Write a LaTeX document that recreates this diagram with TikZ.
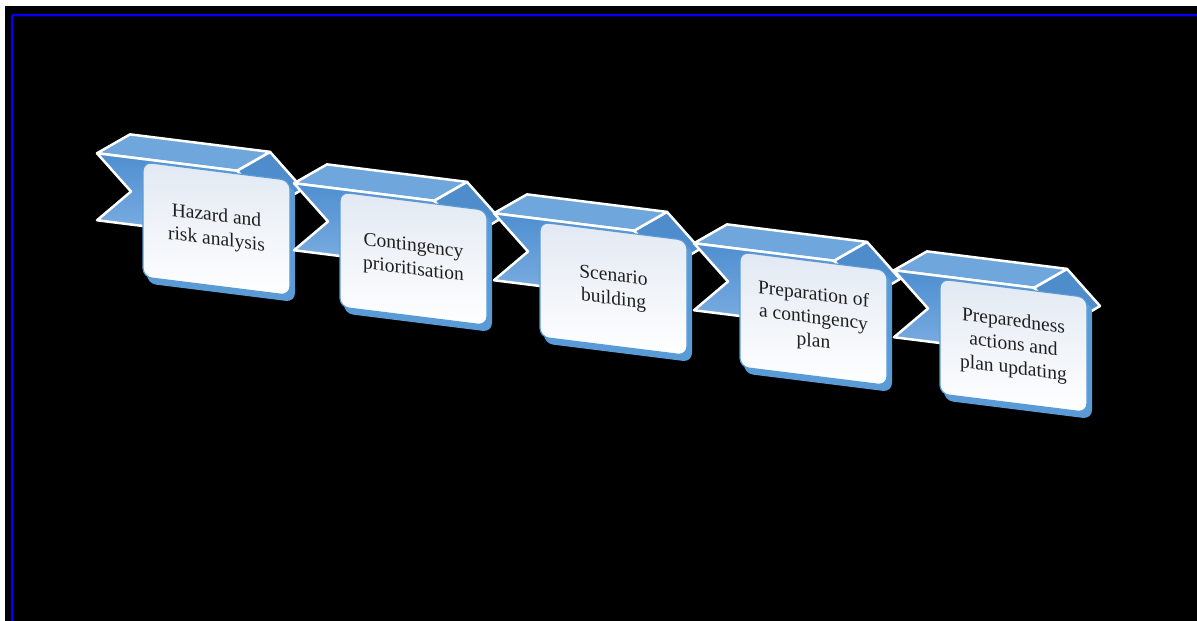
\documentclass[tikz,border=0pt]{standalone}
\usepackage{fontspec}
\setmainfont{Liberation Serif}
\definecolor{rb}{HTML}{5B9BD5}
\definecolor{rbtop}{HTML}{6FA6DC}
\definecolor{rbside}{HTML}{4F8CCB}
\definecolor{rbfronttop}{HTML}{4E8ED0}
\definecolor{rbfrontbot}{HTML}{7EAFE2}
\definecolor{boxtop}{HTML}{E2E9F3}
\definecolor{bluebar}{HTML}{0000F2}
\tikzset{
  ribside/.style={fill=rbside, draw=white, line width=2.5pt, line join=round},
  ribtop/.style={fill=rbtop, draw=white, line width=2.5pt, line join=round},
  ribfront/.style={top color=rbfronttop, bottom color=rbfrontbot, draw=white, line width=2.5pt, line join=round},
  boxside/.style={fill=rb, rounded corners=9pt},
  stepbox/.style={rectangle, rounded corners=9pt, minimum width=147pt, minimum height=115pt,
    draw=rb, line width=1.2pt, top color=boxtop, bottom color=white, transform shape,
    align=center, font=\fontsize{19.5}{23.5}\selectfont, text=black!88, inner sep=4pt}
}
\newcommand\stepunit[4]{%
  \begin{scope}[shift={(#1,#2)}, cm={1,-0.125,0,1,(0,0)}]
    \filldraw[ribside] (94,-3) -- (127,-26) -- (160,7) -- (127,31) -- cycle;
    \filldraw[ribtop] (-46,-3) -- (-13,-26) -- (127,-26) -- (94,-3) -- cycle;
    \filldraw[ribfront] (-46,-3) -- (94,-3) -- (127,31) -- (94,64) -- (-46,64) -- (-12,31) -- cycle;
    \fill[boxside] (4,5) rectangle (152,121);
    \node[stepbox] (#3) at (73.5,57.5) {#4};
  \end{scope}}
\begin{document}
\begin{tikzpicture}[x=1pt,y=-1pt]
  \useasboundingbox (0,0) rectangle (1197,621);
  \fill[white] (0,0) rectangle (1197,621);
  \fill[black] (5,6) rectangle (1197,621);
  \draw[bluebar, line width=2.5pt, rounded corners=2pt] (12,621) -- (12,15) -- (1197,15);
  \stepunit{143}{162}{s1}{Hazard and\\risk analysis}
  \stepunit{340}{192}{s2}{Contingency\\prioritisation}
  \stepunit{540}{222}{s3}{Scenario\\building}
  \stepunit{740}{252}{s4}{Preparation of\\a contingency\\plan}
  \stepunit{940}{279}{s5}{Preparedness\\actions and\\plan updating}
\end{tikzpicture}
\end{document}
